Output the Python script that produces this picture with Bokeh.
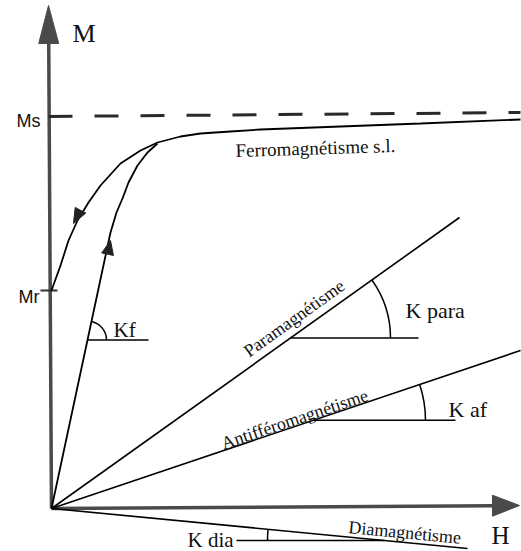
import math
from bokeh.plotting import figure
from bokeh.models import Range1d
from bokeh.core.properties import value
from bokeh.embed import file_html
from bokeh.resources import INLINE

# ---------------- data (diagram units: H to the right, M upward) ----------------
H_AXIS_END = 468.0          # tip of the H arrow
M_AXIS_END = 503.0          # tip of the M arrow
MS = 392.0                  # saturation magnetisation
MR = 218.0                  # remanent magnetisation

ferro_outer_H = [0, 9, 17, 26, 37, 49, 69, 89, 106, 129, 149, 179, 209, 289, 369, 469]
ferro_outer_M = [218, 243, 268, 288, 306, 323, 345, 358, 366, 372, 375, 377, 379, 382, 385, 389]
ferro_inner_H = [0, 53, 59, 65, 71, 77, 86, 96, 106]
ferro_inner_M = [0, 248, 276, 296, 310, 326, 343, 356, 365]

para_H = [0, 408]
para_M = [0, 291]
af_H = [0, 469]
af_M = [0, 158]
dia_H = [0, 416]
dia_M = [0, -40]

# angle markers: (vertex H on its line, arc radius, reference-line length)
kf_vertex_H, kf_r, kf_len = 36, 19, 61
kpara_vertex_H, kpara_r, kpara_len = 239, 100, 128
kaf_vertex_H, kaf_r, kaf_len = 262, 112, 142
kdia_vertex_H, kdia_r, kdia_len = 333, 117, 148

SERIF = value("Liberation Serif")
SANS = value("Liberation Sans")

p = figure(width=521, height=551, output_backend="svg", toolbar_location=None,
           x_range=Range1d(-51, 470), y_range=Range1d(-43, 508),
           min_border=0, background_fill_color="white", border_fill_color="white")
p.axis.visible = False
p.grid.visible = False
p.outline_line_color = None


def head(tip, direction, length, width, color):
    dx, dy = direction
    n = math.hypot(dx, dy)
    ux, uy = dx / n, dy / n
    bx, by = tip[0] - ux * length, tip[1] - uy * length
    px, py = -uy * width / 2, ux * width / 2
    p.patch([tip[0], bx + px, bx - px], [tip[1], by + py, by - py],
            fill_color=color, line_color=color, line_width=1)
    return bx, by


AX = "#4a4a4a"
# M axis
bx, by = head((-3, M_AXIS_END), (-3, M_AXIS_END), 38, 20, AX)
p.line([0, bx], [0, by], line_color=AX, line_width=3.5)
# H axis
bx, by = head((H_AXIS_END, 3), (H_AXIS_END, 3), 27, 21, AX)
p.line([0, bx], [0, by], line_color=AX, line_width=3.5)

# Ms dashed line and ticks
p.line([-3, 469], [MS, MS + 4], line_color="#2a2a2a", line_width=3, line_dash="24 22")
p.line([-11, 6], [MR, MR], line_color="#333333", line_width=1.8)

# ferromagnetic curves
p.line(ferro_outer_H, ferro_outer_M, line_color="black", line_width=1.8)
p.line(ferro_inner_H, ferro_inner_M, line_color="black", line_width=1.8)
head((ferro_outer_H[2] + 5, ferro_outer_M[2] + 17),
     (ferro_outer_H[2] - ferro_outer_H[4], ferro_outer_M[2] - ferro_outer_M[4]), 15, 12, "#222222")
head((ferro_inner_H[2], ferro_inner_M[2] - 8),
     (ferro_inner_H[1], ferro_inner_M[1]), 14, 12, "#222222")

# straight susceptibility lines
for hs, ms in [(para_H, para_M), (af_H, af_M), (dia_H, dia_M)]:
    p.line(hs, ms, line_color="black", line_width=1.6)


def angle_marker(vh, slope, r, length, left=False):
    vm = vh * slope
    if left:
        p.line([vh - length, vh], [vm, vm], line_color="black", line_width=1.5)
        a = math.atan(slope)  # negative slope
        p.arc(x=vh, y=vm, radius=r, start_angle=math.pi + a, end_angle=math.pi,
              line_color="black", line_width=1.5)
    else:
        p.line([vh, vh + length], [vm, vm], line_color="black", line_width=1.5)
        p.arc(x=vh, y=vm, radius=r, start_angle=0, end_angle=math.atan(slope),
              line_color="black", line_width=1.5)


kf_slope = ferro_inner_M[1] / ferro_inner_H[1]
angle_marker(kf_vertex_H, kf_slope, kf_r, kf_len)
angle_marker(kpara_vertex_H, para_M[1] / para_H[1], kpara_r, kpara_len)
angle_marker(kaf_vertex_H, af_M[1] / af_H[1], kaf_r, kaf_len)
angle_marker(kdia_vertex_H, dia_M[1] / dia_H[1], kdia_r, kdia_len, left=True)


def txt(x, y, s, size, font=SERIF, align="left", angle=0.0):
    p.text(x=[x], y=[y], text=[s], text_font=font, text_font_size=f"{size}px",
           text_align=align, text_baseline="alphabetic", angle=angle, text_color="#111111")


def line_label(hs, ms, t, offset, s, size):
    a = math.atan2(ms[1], hs[1])
    ux, uy = math.cos(a), math.sin(a)
    x = t * ux - offset * uy
    y = t * uy + offset * ux
    txt(x, y, s, size, align="center", angle=a)


txt(21, 475, "M", 26)
txt(440, -27, "H", 25)
txt(-11, 388, "Ms", 18, font=SANS, align="right")
txt(-12, 212, "Mr", 18, font=SANS, align="right")
txt(62, 179, "Kf", 21)
txt(354, 198, "K para", 22)
txt(397, 99, "K af", 22)
txt(136, -31, "K dia", 21)
txt(184, 358, "Ferromagnétisme s.l.", 19, angle=math.radians(1.8))
line_label(para_H, para_M, 308, 14, "Paramagnétisme", 18)
line_label(af_H, af_M, 259, 7, "Antifféromagnétisme", 18)
line_label(dia_H, dia_M, 354, 10, "Diamagnétisme", 18)

open("out.html", "w").write(file_html(p, INLINE))
